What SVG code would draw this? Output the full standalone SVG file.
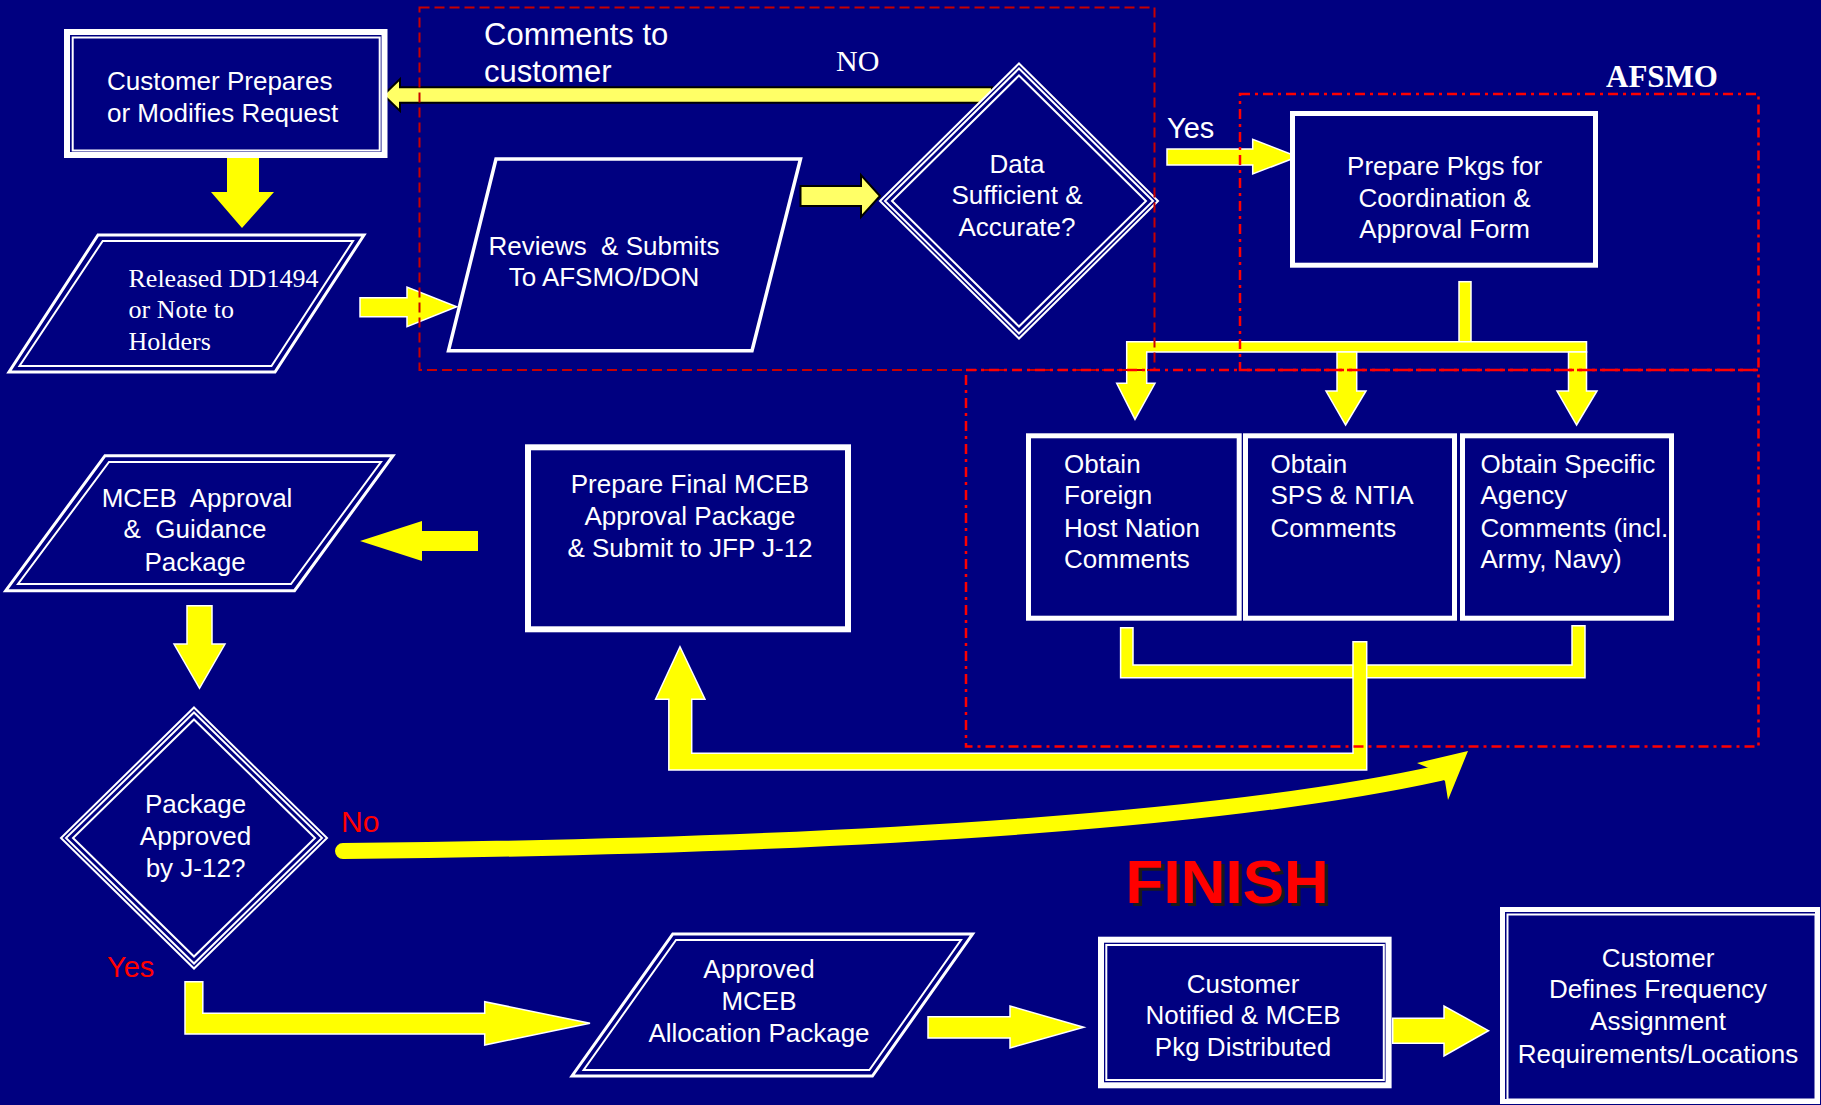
<svg xmlns="http://www.w3.org/2000/svg" width="1821" height="1105" viewBox="0 0 1821 1105">
<style>
.t{font-family:"Liberation Sans",Arial,sans-serif;font-size:26px;fill:#fff}
.c{text-anchor:middle}
.s{font-family:"Liberation Serif","Times New Roman",serif;fill:#fff}
.pre{white-space:pre}
.box{fill:#000080;stroke:#fff}
.ln{fill:none;stroke:#fff}
.ya{fill:#ff0;stroke:#fff;stroke-width:1.5}
.yp{fill:#ff0;stroke:none}
.pa{fill:#ffff66;stroke:#000;stroke-width:2}
.rl{fill:#f00}
</style>
<rect width="1821" height="1105" fill="#000080"/>

<g id="connectors">
  <polygon class="yp" points="227,157 259,157 259,192 274,192 242,228 211,192 227,192"/>
  <polygon class="ya" points="360,297.7 407,297.7 407,287 456.7,306.7 407,326.7 407,316.7 360,316.7"/>
  <polygon class="pa" points="800.5,186 861,186 861,175 880,196 861,217 861,206 800.5,206"/>
  <polygon class="pa" points="992,87.3 400,87.3 400,79 383.5,95 400,111 400,102.7 992,102.7"/>
  <polygon class="ya" points="1167,149 1252.7,149 1252.7,139.3 1297.6,156.7 1252.7,174 1252.7,165 1167,165"/>
  <rect class="ya" x="1459" y="281.7" width="12" height="62"/>
  <polygon class="ya" points="1126.7,341.7 1586.5,341.7 1586.5,352 1146.7,352 1146.7,383.3 1155,383.3 1135,419.3 1116.7,383.3 1126.7,383.3"/>
  <polygon class="ya" points="1337,352 1356.7,352 1356.7,391 1366,391 1345.6,425 1326,391 1337,391"/>
  <polygon class="ya" points="1568.5,352 1586.5,352 1586.5,391 1597,391 1576.6,425 1557,391 1568.5,391"/>
  <polygon class="ya" points="1120.6,627.7 1133,627.7 1133,665 1572,665 1572,625.7 1585,625.7 1585,677.7 1120.6,677.7"/>
  <polygon class="ya" points="1353,641.7 1366.7,641.7 1366.7,770 668.8,770 668.8,699.3 655.6,699.3 680,646.7 705,699.3 691.7,699.3 691.7,753.3 1353,753.3"/>
  <polygon class="yp" points="478,531 422,531 422,521 360,541 422,561 422,551 478,551"/>
  <polygon class="ya" points="187,605.7 212,605.7 212,644 225,644 199.5,688.3 174,644 187,644"/>
  <path d="M343,851 C900,846 1250,815 1440,773" fill="none" stroke="#ff0" stroke-width="16" stroke-linecap="round"/>
  <polygon class="yp" points="1468,751 1417,763 1431,769 1445,781 1448,800"/>
  <polygon class="ya" points="185,981.7 202.8,981.7 202.8,1013.3 484.7,1013.3 484.7,1001.7 590,1023.3 484.7,1045 484.7,1034 185,1034"/>
  <polygon class="ya" points="928,1016.7 1010,1016.7 1010,1006 1083.8,1027.3 1010,1048 1010,1038 928,1038"/>
  <polygon class="ya" points="1392.7,1018.3 1444,1018.3 1444,1006 1488.5,1030.7 1444,1056 1444,1043.3 1392.7,1043.3"/>
</g>

<g id="n-customer-prepares">
  <rect class="box" x="67" y="32" width="317.5" height="123" stroke-width="6"/>
  <rect class="ln" x="72.7" y="37.5" width="307" height="113" stroke-width="2"/>
  <text class="t" x="107" y="90">Customer Prepares</text>
  <text class="t" x="107" y="121.7">or Modifies Request</text>
</g>

<g id="n-released">
  <polygon class="box" points="98,235 364,235 275,372 9,372" stroke-width="3"/>
  <polygon class="ln" points="102.7,241 353,241 271.5,366 19.5,366" stroke-width="2"/>
  <text class="s" font-size="26" x="128.5" y="286.7">Released DD1494</text>
  <text class="s" font-size="26" x="128.5" y="318">or Note to</text>
  <text class="s" font-size="26" x="128.5" y="350">Holders</text>
</g>

<g id="n-reviews">
  <polygon class="box" points="496,159 800.5,159 752,350.7 448.5,350.7" stroke-width="3.5"/>
  <text class="t c pre" x="604" y="255">Reviews  &amp; Submits</text>
  <text class="t c" x="604" y="286">To AFSMO/DON</text>
</g>

<g id="n-data">
  <polygon class="box" points="1019,63.5 1158,201 1019,338.5 880,201" stroke-width="2"/>
  <polygon class="ln" points="1019,68.5 1153,201 1019,333.5 885,201" stroke-width="2"/>
  <polygon class="ln" points="1019,75.5 1146,201 1019,326.5 892,201" stroke-width="2"/>
  <text class="t c" x="1017" y="172.7">Data</text>
  <text class="t c" x="1017" y="204">Sufficient &amp;</text>
  <text class="t c" x="1017" y="236">Accurate?</text>
</g>

<g id="n-prepare-pkgs">
  <rect class="box" x="1292.5" y="113.5" width="303" height="151.7" stroke-width="5"/>
  <text class="t c" x="1444.6" y="175">Prepare Pkgs for</text>
  <text class="t c" x="1444.6" y="206.7">Coordination &amp;</text>
  <text class="t c" x="1444.6" y="238.3">Approval Form</text>
</g>

<g id="n-obtain-foreign">
  <rect class="box" x="1028.5" y="435.8" width="210.7" height="182.4" stroke-width="5"/>
  <text class="t" x="1064" y="472.7">Obtain</text>
  <text class="t" x="1064" y="504.3">Foreign</text>
  <text class="t" x="1064" y="536.7">Host Nation</text>
  <text class="t" x="1064" y="568.3">Comments</text>
</g>

<g id="n-obtain-sps">
  <rect class="box" x="1245.5" y="435.8" width="209" height="182.4" stroke-width="5"/>
  <text class="t" x="1270.5" y="472.7">Obtain</text>
  <text class="t" x="1270.5" y="504.3">SPS &amp; NTIA</text>
  <text class="t" x="1270.5" y="536.7">Comments</text>
</g>

<g id="n-obtain-agency">
  <rect class="box" x="1462.5" y="435.8" width="209" height="182.4" stroke-width="5"/>
  <text class="t" x="1480.5" y="472.7">Obtain Specific</text>
  <text class="t" x="1480.5" y="504.3">Agency</text>
  <text class="t" x="1480.5" y="536.7">Comments (incl.</text>
  <text class="t" x="1480.5" y="568.3">Army, Navy)</text>
</g>

<g id="n-prepare-final">
  <rect class="box" x="528" y="447.3" width="320" height="182" stroke-width="6"/>
  <text class="t c" x="690" y="493.3">Prepare Final MCEB</text>
  <text class="t c" x="690" y="525">Approval Package</text>
  <text class="t c" x="690" y="556.7">&amp; Submit to JFP J-12</text>
</g>

<g id="n-mceb-approval">
  <polygon class="box" points="105,455.7 393,455.7 294.5,590.7 5.7,590.7" stroke-width="3"/>
  <polygon class="ln" points="109,462 381,462 291,584 18,584" stroke-width="2"/>
  <text class="t c pre" x="197" y="506.7">MCEB  Approval</text>
  <text class="t c pre" x="195" y="538.3">&amp;  Guidance</text>
  <text class="t c" x="195" y="570.7">Package</text>
</g>

<g id="n-package-approved">
  <polygon class="box" points="194,707.5 327,838 194,968.5 61,838" stroke-width="2"/>
  <polygon class="ln" points="194,712.5 322,838 194,963.5 66,838" stroke-width="2"/>
  <polygon class="ln" points="194,719.5 315,838 194,956.5 73,838" stroke-width="2"/>
  <text class="t c" x="195.5" y="813.3">Package</text>
  <text class="t c" x="195.5" y="845">Approved</text>
  <text class="t c" x="195.5" y="877.3">by J-12?</text>
</g>

<g id="n-approved-mceb">
  <polygon class="box" points="672.8,934 972.6,934 872.4,1076 572,1076" stroke-width="3"/>
  <polygon class="ln" points="676,940 961,940 869.4,1070 583.6,1070" stroke-width="2"/>
  <text class="t c" x="759" y="978.3">Approved</text>
  <text class="t c" x="759" y="1010">MCEB</text>
  <text class="t c" x="759" y="1042.3">Allocation Package</text>
</g>

<g id="n-customer-notified">
  <rect class="box" x="1101" y="939.7" width="287.6" height="145.6" stroke-width="6"/>
  <rect class="ln" x="1106.3" y="945" width="277.5" height="135" stroke-width="2"/>
  <text class="t c" x="1243" y="992.7">Customer</text>
  <text class="t c" x="1243" y="1024.3">Notified &amp; MCEB</text>
  <text class="t c" x="1243" y="1056">Pkg Distributed</text>
</g>

<g id="n-customer-defines">
  <rect class="box" x="1502.5" y="909.5" width="315" height="192" stroke-width="5"/>
  <rect class="ln" x="1507.5" y="914.5" width="308" height="185" stroke-width="2"/>
  <text class="t c" x="1658" y="966.7">Customer</text>
  <text class="t c" x="1658" y="998.3">Defines Frequency</text>
  <text class="t c" x="1658" y="1030">Assignment</text>
  <text class="t c" x="1658" y="1062.7">Requirements/Locations</text>
</g>

<g id="regions" fill="none">
  <rect x="419.5" y="7.5" width="735" height="362.5" stroke="#c80000" stroke-width="2" stroke-dasharray="10 5"/>
  <rect x="1240" y="94" width="518.5" height="276" stroke="#f00" stroke-width="2.5" stroke-dasharray="10 5 3 5"/>
  <rect x="966" y="370" width="792.5" height="376.5" stroke="#f00" stroke-width="2.5" stroke-dasharray="10 5 3 5"/>
</g>

<g id="labels">
  <text class="t" font-size="31" x="484" y="45" style="font-size:31px">Comments to</text>
  <text class="t" x="484" y="81.7" style="font-size:31px">customer</text>
  <text class="s" x="836" y="71" font-size="30">NO</text>
  <text class="t" x="1167" y="138.3" style="font-size:29px">Yes</text>
  <text class="s" x="1606" y="87.3" font-size="31" font-weight="bold">AFSMO</text>
  <text class="t" x="341" y="831.7" style="font-size:30px;fill:#f00">No</text>
  <text class="t" x="107" y="977.3" style="font-size:29px;fill:#f00">Yes</text>
  <text x="1129" y="906" font-family="Liberation Sans,Arial,sans-serif" font-size="62" font-weight="bold" fill="#1a1a1a">FINISH</text>
  <text x="1125.6" y="902.7" font-family="Liberation Sans,Arial,sans-serif" font-size="62" font-weight="bold" fill="#f00">FINISH</text>
</g>
</svg>
